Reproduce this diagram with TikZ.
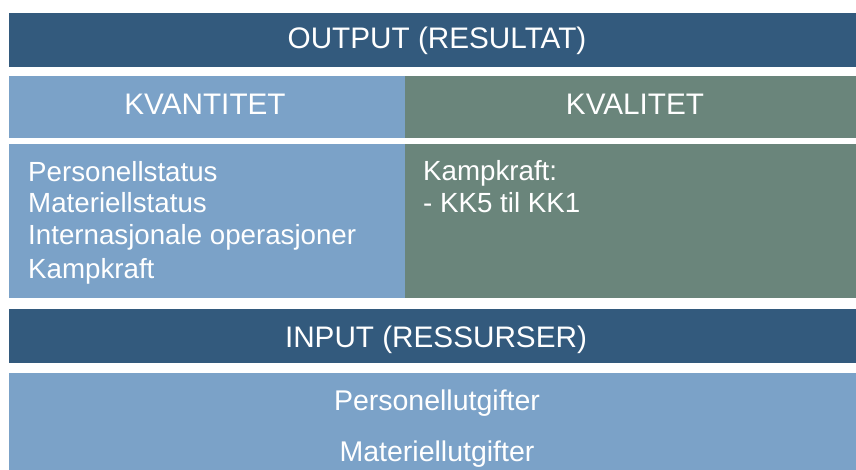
\documentclass[tikz,border=0pt]{standalone}
\usepackage{fontspec}
\setmainfont{Liberation Sans}
\definecolor{darkbar}{HTML}{335A7D}
\definecolor{lightcell}{HTML}{7BA2C8}
\definecolor{greencell}{HTML}{6A857B}
\tikzset{
  head/.style={text=white, inner sep=0pt, anchor=base, font=\fontsize{29.7}{33}\selectfont},
  lbl/.style={text=white, inner sep=0pt, anchor=base, font=\fontsize{28.5}{32}\selectfont},
  item/.style={text=white, inner sep=0pt, anchor=base west, font=\fontsize{27.7}{31}\selectfont},
}
\begin{document}
\begin{tikzpicture}[x=1pt,y=-1pt]
\useasboundingbox (0,0) rectangle (856,470);
\clip (0,0) rectangle (856,470);

% bands and cells
\fill[darkbar]   (9,13)   rectangle (870,67);
\fill[lightcell] (9,76)   rectangle (405,138);
\fill[greencell] (405,76) rectangle (870,138);
\fill[lightcell] (9,144)  rectangle (405,298);
\fill[greencell] (405,144) rectangle (870,298);
\fill[darkbar]   (9,309)  rectangle (870,363);
\fill[lightcell] (9,373)  rectangle (870,480);

% headings
\node[head] (output) at (437,49) {OUTPUT (RESULTAT)};
\node[head] (kvantitet) at (205,115) {KVANTITET};
\node[head] (kvalitet) at (635,115) {KVALITET};
\node[head] (input) at (436,347) {INPUT (RESSURSER)};

% quantity list
\node[item] (q1) at (28,182) {Personellstatus};
\node[item] (q2) at (28,213) {Materiellstatus};
\node[item] (q3) at (28,245) {Internasjonale operasjoner};
\node[item] (q4) at (28,278) {Kampkraft};

% quality list
\node[item] (k1) at (423,181) {Kampkraft:};
\node[item] (k2) at (423,213) {- KK5 til KK1};

% resources
\node[lbl] (r1) at (437,410) {Personellutgifter};
\node[lbl] (r2) at (437,461) {Materiellutgifter};
\end{tikzpicture}
\end{document}
